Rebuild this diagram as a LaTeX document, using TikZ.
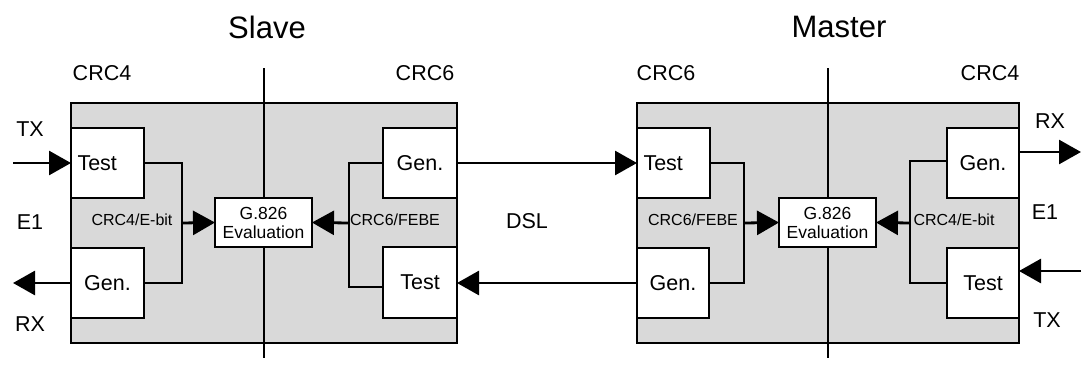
\documentclass[tikz,border=0pt]{standalone}
\usepackage{fontspec}
\setmainfont{Liberation Sans}
\usetikzlibrary{arrows.meta}
\definecolor{panel}{RGB}{217,217,217}
\begin{document}
\begin{tikzpicture}[x=1pt,y=-1pt,
  thickline/.style={line width=2.8pt},
  thinline/.style={line width=1.2pt},
  tip/.style={-{Triangle[length=22pt,width=24pt]}},
  panelbox/.style={draw,line width=2.8pt,fill=panel},
  unitbox/.style={draw,fill=white,line width=2.8pt,minimum width=73pt,minimum height=70pt,anchor=north west,outer sep=0pt,inner sep=0pt,font=\fontsize{21.5}{21.5}\selectfont},
  leftbox/.style={unitbox,text width=60pt,align=left,inner xsep=6.5pt},
  evalbox/.style={draw,fill=white,line width=2.8pt,minimum width=97pt,minimum height=49pt,anchor=north west,outer sep=0pt,inner sep=0pt,align=center,font=\fontsize{17.5}{19}\selectfont},
  biglabel/.style={font=\fontsize{31}{31}\selectfont},
  midlabel/.style={font=\fontsize{21.5}{21.5}\selectfont},
  smalllabel/.style={font=\fontsize{16}{16}\selectfont}
]
\useasboundingbox (0,0) rectangle (1082,388);
\fill[white] (0,0) rectangle (1082,388);

% panels
\draw[panelbox] (71,103) rectangle (457,343);
\draw[panelbox] (637,103) rectangle (1019,343);

% vertical divider lines
\coordinate (sTop) at (264,68);
\coordinate (sBot) at (264,358);
\coordinate (mTop) at (828,68);
\coordinate (mBot) at (828,358);
\draw[thickline] (sTop) -- (sBot);
\draw[thickline] (mTop) -- (mBot);

% slave boxes
\node[leftbox] (sTest) at (71,128) {Test};
\node[unitbox] (sGen) at (71,248) {Gen.};
\node[unitbox,minimum width=74pt] (sGen2) at (383,128) {Gen.};
\node[unitbox,minimum width=74pt,minimum height=71pt] (sTest2) at (383,247) {Test};
\node[evalbox] (sEval) at (215,198) {G.826\\Evaluation};

% master boxes
\node[leftbox,inner xsep=6pt] (mTest) at (637,128) {Test};
\node[unitbox,minimum width=72pt] (mGen) at (637,248) {Gen.};
\node[unitbox,minimum width=72pt] (mGen2) at (947,128) {Gen.};
\node[unitbox,minimum width=72pt] (mTest2) at (947,248) {Test};
\node[evalbox] (mEval) at (779,198) {G.826\\Evaluation};

% slave left connector
\coordinate (sJa) at (182,163);
\coordinate (sJb) at (182,283);
\coordinate (sJm) at (182,223);
\draw[thickline] (sTest.east) -- (sJa) -- (sJb) -- (sGen.east);
\draw[thickline,tip] (sJm) -- (sEval.west);

% slave right connector
\coordinate (sKa) at (349,163);
\coordinate (sKb) at (349,287);
\coordinate (sKm) at (349,223);
\draw[thinline] (sGen2.west) -- (sKa) -- (sKb) -- (sTest2.west |- sKb);
\draw[thickline,tip] (sKm) -- (sEval.east);

% master left connector
\coordinate (mJa) at (744,163);
\coordinate (mJb) at (744,283);
\coordinate (mJm) at (744,223);
\draw[thickline] (mTest.east) -- (mJa) -- (mJb) -- (mGen.east);
\draw[thickline,tip] (mJm) -- (mEval.west);

% master right connector
\coordinate (mKa) at (910,161);
\coordinate (mKb) at (910,283);
\coordinate (mKm) at (910,223);
\draw[thinline] (mGen2.west |- mKa) -- (mKa) -- (mKb) -- (mTest2.west |- mKb);
\draw[thickline,tip] (mKm) -- (mEval.east);

% DSL links
\draw[thickline,tip] (sGen2.east) -- (mTest.west);
\draw[thickline,tip] (mGen.west) -- (sTest2.east |- mGen.west);

% external E1 lines
\coordinate (sTXin) at (13,163);
\coordinate (sRXout) at (13,283);
\coordinate (mRXout) at (1081,152);
\coordinate (mTXin) at (1081,271);
\draw[thickline,tip] (sTXin) -- (sTest.west |- sTXin);
\draw[thickline,tip] (sGen.west |- sRXout) -- (sRXout);
\draw[thickline,tip] (mGen2.east |- mRXout) -- (mRXout);
\draw[thickline,tip] (mTXin) -- (mTest2.east |- mTXin);

% labels
\node[biglabel] (lSlave) at (267,27) {Slave};
\node[biglabel] (lMaster) at (839,27) {Master};
\node[midlabel] (lc1) at (102,73) {CRC4};
\node[midlabel] (lc2) at (425,73) {CRC6};
\node[midlabel] (lc3) at (666,73) {CRC6};
\node[midlabel] (lc4) at (990,73) {CRC4};
\node[midlabel] (lTX1) at (30,129) {TX};
\node[midlabel] (lE11) at (30,222) {E1};
\node[midlabel] (lRX1) at (30,324) {RX};
\node[midlabel] (lRX2) at (1050,121) {RX};
\node[midlabel] (lE12) at (1045,212) {E1};
\node[midlabel] (lTX2) at (1047,320) {TX};
\node[midlabel] (lDSL) at (527,221) {DSL};
\node[smalllabel] (lcs1) at (132,220) {CRC4/E-bit};
\node[smalllabel] (lcs2) at (395,220) {CRC6/FEBE};
\node[smalllabel] (lcs3) at (693,220) {CRC6/FEBE};
\node[smalllabel] (lcs4) at (954,220) {CRC4/E-bit};
\end{tikzpicture}
\end{document}
